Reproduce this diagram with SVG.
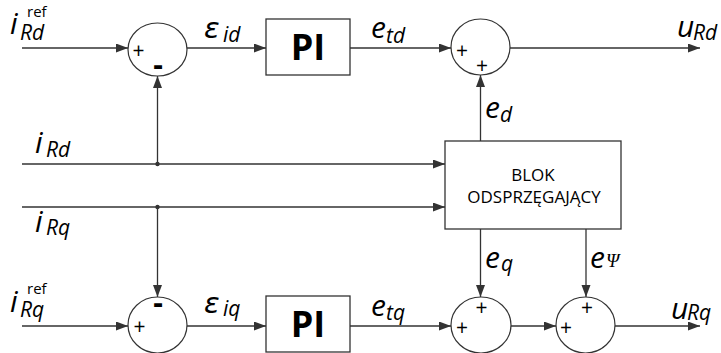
<svg xmlns="http://www.w3.org/2000/svg" width="721" height="353" viewBox="0 0 721 353">
<defs>
<marker id="arr" markerUnits="userSpaceOnUse" markerWidth="13" markerHeight="10" refX="12" refY="4.5" orient="auto">
<path d="M0,0 L12,4.5 L0,9 z" fill="#333"/>
</marker>
<style>
.ln{stroke:#333;stroke-width:1.3;fill:none}
.ar{marker-end:url(#arr)}
.sum{fill:#fff;stroke:#333;stroke-width:1.2}
.box{fill:#fff;stroke:#333;stroke-width:1.3}
.sg{font-family:"Open Sans","DejaVu Sans",sans-serif;font-size:21px;fill:#000;text-anchor:middle}
.mn{font-family:"Open Sans","DejaVu Sans",sans-serif;font-size:30px;font-weight:bold;fill:#000;text-anchor:middle}
.lb{font-family:"Open Sans","DejaVu Sans",sans-serif;font-style:italic;font-size:30px;fill:#000}
.ep{font-family:"DejaVu Sans",sans-serif;font-size:29px}
.sb{font-size:21px}
.sp{font-size:15px;font-style:normal}
.ps{font-family:"Liberation Serif",serif;font-size:19px}
.pi{font-family:"Open Sans","DejaVu Sans",sans-serif;font-size:36px;font-weight:bold;fill:#000;text-anchor:middle}
.bt{font-family:"Open Sans","DejaVu Sans",sans-serif;font-size:17px;fill:#000;text-anchor:middle}
</style>
</defs>
<g id="connectors">
<line class="ln ar" x1="22" y1="48" x2="128" y2="48"/>
<line class="ln ar" x1="187" y1="48" x2="266" y2="48"/>
<line class="ln ar" x1="350" y1="48" x2="451" y2="48"/>
<line class="ln ar" x1="510" y1="48" x2="700" y2="48"/>
<line class="ln ar" x1="157.5" y1="164" x2="157.5" y2="76"/>
<line class="ln ar" x1="22" y1="164" x2="445" y2="164"/>
<line class="ln ar" x1="22" y1="207" x2="445" y2="207"/>
<line class="ln ar" x1="157.5" y1="207" x2="157.5" y2="297"/>
<line class="ln ar" x1="480.5" y1="141" x2="480.5" y2="75"/>
<line class="ln ar" x1="480.5" y1="229" x2="480.5" y2="297"/>
<line class="ln ar" x1="586" y1="229" x2="586" y2="297"/>
<line class="ln ar" x1="22" y1="326" x2="128" y2="326"/>
<line class="ln ar" x1="187" y1="326" x2="266" y2="326"/>
<line class="ln ar" x1="350" y1="326" x2="451" y2="326"/>
<line class="ln ar" x1="511" y1="326" x2="556" y2="326"/>
<line class="ln ar" x1="615" y1="326" x2="700" y2="326"/>
<circle cx="157.5" cy="164" r="2.2" fill="#333"/>
<circle cx="157.5" cy="207" r="2.2" fill="#333"/>
</g>
<g id="sum1">
<ellipse class="sum" cx="157.5" cy="49.5" rx="29.5" ry="26.5"/>
<text class="sg" x="138.5" y="57.5">+</text>
<text class="mn" x="158" y="75">-</text>
</g>
<g id="pi1">
<rect class="box" x="266" y="19" width="84" height="56"/>
<text class="pi" x="308" y="60">PI</text>
</g>
<g id="sum2">
<ellipse class="sum" cx="480.5" cy="47" rx="29.5" ry="28"/>
<text class="sg" x="462" y="57.5">+</text>
<text class="sg" x="482" y="72.5">+</text>
</g>
<g id="blok">
<rect class="box" x="445" y="141" width="176" height="88"/>
<text class="bt" x="533" y="181">BLOK</text>
<text class="bt" x="534" y="203">ODSPRZĘGAJĄCY</text>
</g>
<g id="sum3">
<ellipse class="sum" cx="157.5" cy="325" rx="29.5" ry="28"/>
<text class="mn" x="158" y="313">-</text>
<text class="sg" x="139.5" y="333.5">+</text>
</g>
<g id="pi2">
<rect class="box" x="266" y="296" width="84" height="56"/>
<text class="pi" x="308" y="337">PI</text>
</g>
<g id="sum4">
<ellipse class="sum" cx="481" cy="325" rx="30" ry="28"/>
<text class="sg" x="481.5" y="315">+</text>
<text class="sg" x="462" y="334.5">+</text>
</g>
<g id="sum5">
<ellipse class="sum" cx="585.5" cy="325" rx="29.5" ry="28"/>
<text class="sg" x="587" y="315">+</text>
<text class="sg" x="566" y="334.5">+</text>
</g>
<g id="labels">
<text class="lb"><tspan x="10" y="34">i</tspan><tspan class="sb" x="20" y="40">Rd</tspan><tspan class="sp" x="27" y="17">ref</tspan></text>
<text class="lb"><tspan class="ep" x="204" y="38">ε</tspan><tspan class="sb" x="223" y="42">id</tspan></text>
<text class="lb"><tspan x="371" y="38">e</tspan><tspan class="sb" x="386" y="43">td</tspan></text>
<text class="lb"><tspan x="677" y="37">u</tspan><tspan class="sb" x="693" y="40">Rd</tspan></text>
<text class="lb"><tspan x="485" y="118">e</tspan><tspan class="sb" x="500" y="122">d</tspan></text>
<text class="lb"><tspan x="35" y="153">i</tspan><tspan class="sb" x="46" y="157">Rd</tspan></text>
<text class="lb"><tspan x="35" y="232">i</tspan><tspan class="sb" x="46" y="235">Rq</tspan></text>
<text class="lb"><tspan x="485" y="268">e</tspan><tspan class="sb" x="501" y="271">q</tspan></text>
<text class="lb"><tspan x="590" y="268">e</tspan><tspan class="ps" x="606" y="267">Ψ</tspan></text>
<text class="lb"><tspan x="10" y="312">i</tspan><tspan class="sb" x="20" y="317">Rq</tspan><tspan class="sp" x="27" y="294">ref</tspan></text>
<text class="lb"><tspan class="ep" x="204" y="313">ε</tspan><tspan class="sb" x="223" y="316">iq</tspan></text>
<text class="lb"><tspan x="371" y="316">e</tspan><tspan class="sb" x="386" y="320">tq</tspan></text>
<text class="lb"><tspan x="671" y="319">u</tspan><tspan class="sb" x="687" y="320">Rq</tspan></text>
</g>
</svg>
